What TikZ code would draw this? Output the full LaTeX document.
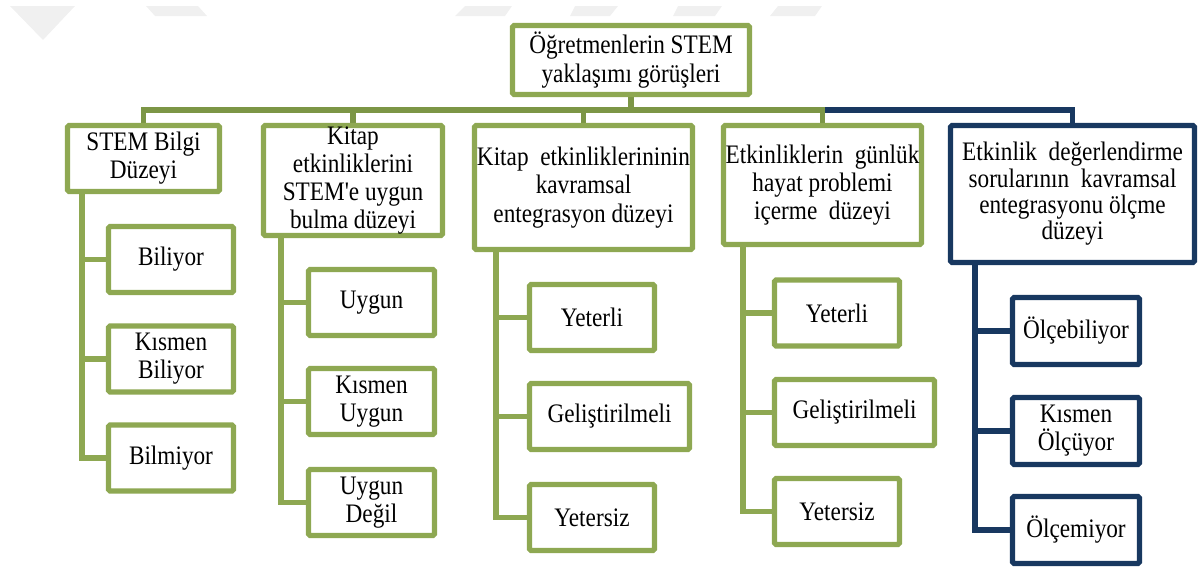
\documentclass[tikz,border=0pt]{standalone}
\usepackage{fontspec}
\setmainfont{Liberation Serif}[FakeStretch=0.87, Ligatures=TeXOff]
\usetikzlibrary{backgrounds}

\definecolor{boxgreen}{RGB}{142,168,82}
\definecolor{busgreen}{RGB}{124,150,70}
\definecolor{navy}{RGB}{24,56,96}
\definecolor{wmark}{RGB}{240,240,240}

\tikzset{
  sz/.style 2 args={minimum width={#1*0.025cm}, minimum height={#2*0.025cm}},
  box/.style={draw=boxgreen, line width=3.6pt, fill=white, align=center,
    inner sep=0pt, rounded corners=1pt,
    font=\fontsize{19}{20}\selectfont},
  nbox/.style={box, draw=navy},
  gline/.style={draw=boxgreen, line width=3.6pt},
  bline/.style={draw=busgreen, line width=3.6pt},
  nline/.style={draw=navy, line width=3.6pt},
}

\begin{document}
\begin{tikzpicture}[x=0.025cm, y=-0.025cm]
\useasboundingbox (0,0) rectangle (1200,567);

% faint background marks along the top edge
\fill[wmark] (10,6) -- (75,6) -- (43,40) -- cycle;
\fill[wmark] (146,6) -- (198,6) -- (207,16) -- (155,16) -- cycle;
\fill[wmark] (465,6) -- (512,6) -- (505,16) -- (455,16) -- cycle;
\fill[wmark] (575,6) -- (618,6) -- (610,16) -- (570,16) -- cycle;
\fill[wmark] (678,6) -- (722,6) -- (715,16) -- (673,16) -- cycle;
\fill[wmark] (778,6) -- (822,6) -- (815,16) -- (770,16) -- cycle;

% root
\node[box, sz={237}{69}] (root) at (631,60) {Öğretmenlerin STEM\\yaklaşımı görüşleri};

% first level
\node[box, sz={152}{66}]  (b1) at (143.5,158.5) {STEM Bilgi\\Düzeyi};
\node[box, sz={179}{110}] (b2) at (353,180.5) {Kitap\\etkinliklerini\\STEM'e uygun\\bulma düzeyi};
\node[box, sz={218}{124}] (b3) at (583.5,187.5) {Kitap\ \ etkinliklerininin\\kavramsal\\entegrasyon düzeyi};
\node[box, sz={198}{119}] (b4) at (822.5,185) {Etkinliklerin\ \ günlük\\hayat problemi\\içerme\ \ düzeyi};
\node[nbox, sz={244}{137}, font=\fontsize{19}{18.7}\selectfont] (b5) at (1072.5,194)
  {Etkinlik\ \ değerlendirme\\sorularının\ \ kavramsal\\entegrasyonu ölçme\\düzeyi};

% second level
\node[box, sz={125}{66}] (c11) at (171,259.5) {Biliyor};
\node[box, sz={125}{66}] (c12) at (171,359) {Kısmen\\Biliyor};
\node[box, sz={125}{66}] (c13) at (171,458) {Bilmiyor};

\node[box, sz={126}{66}] (c21) at (371.5,302.5) {Uygun};
\node[box, sz={126}{66}] (c22) at (371.5,401.5) {Kısmen\\Uygun};
\node[box, sz={126}{66}] (c23) at (371.5,502.5) {Uygun\\Değil};

\node[box, sz={125}{66}] (c31) at (592,317.5) {Yeterli};
\node[box, sz={160}{66}] (c32) at (609.5,416.5) {Geliştirilmeli};
\node[box, sz={125}{66}] (c33) at (592,517.5) {Yetersiz};

\node[box, sz={125}{66}] (c41) at (837,313) {Yeterli};
\node[box, sz={160}{66}] (c42) at (854.5,412.5) {Geliştirilmeli};
\node[box, sz={125}{66}] (c43) at (837,511.5) {Yetersiz};

\node[nbox, sz={127}{67}] (c51) at (1076,331) {Ölçebiliyor};
\node[nbox, sz={127}{67}] (c52) at (1076,431) {Kısmen\\Ölçüyor};
\node[nbox, sz={127}{67}] (c53) at (1076,530) {Ölçemiyor};

% trunk positions
\coordinate (bus) at (631,110);
\coordinate (t1) at (82,0);
\coordinate (t2) at (281,0);
\coordinate (t3) at (496,0);
\coordinate (t4) at (743,0);
\coordinate (t5) at (975,0);

\begin{pgfonlayer}{background}
  % bus from the root to the first level
  \draw[nline] (bus -| b4.north) -| (b5.north);
  \draw[bline] (root.south) -- (bus);
  \draw[bline] (b1.north) |- (bus -| b4.north) -- (b4.north);
  \draw[bline] (b2.north) -- (b2.north |- bus);
  \draw[bline] (b3.north) -- (b3.north |- bus);

  % trunks and branches
  \draw[gline] (b1.south -| t1) |- (c13.west);
  \draw[gline] (c11.west -| t1) -- (c11.west);
  \draw[gline] (c12.west -| t1) -- (c12.west);

  \draw[gline] (b2.south -| t2) |- (c23.west);
  \draw[gline] (c21.west -| t2) -- (c21.west);
  \draw[gline] (c22.west -| t2) -- (c22.west);

  \draw[gline] (b3.south -| t3) |- (c33.west);
  \draw[gline] (c31.west -| t3) -- (c31.west);
  \draw[gline] (c32.west -| t3) -- (c32.west);

  \draw[gline] (b4.south -| t4) |- (c43.west);
  \draw[gline] (c41.west -| t4) -- (c41.west);
  \draw[gline] (c42.west -| t4) -- (c42.west);

  \draw[nline] (b5.south -| t5) |- (c53.west);
  \draw[nline] (c51.west -| t5) -- (c51.west);
  \draw[nline] (c52.west -| t5) -- (c52.west);
\end{pgfonlayer}
\end{tikzpicture}
\end{document}
